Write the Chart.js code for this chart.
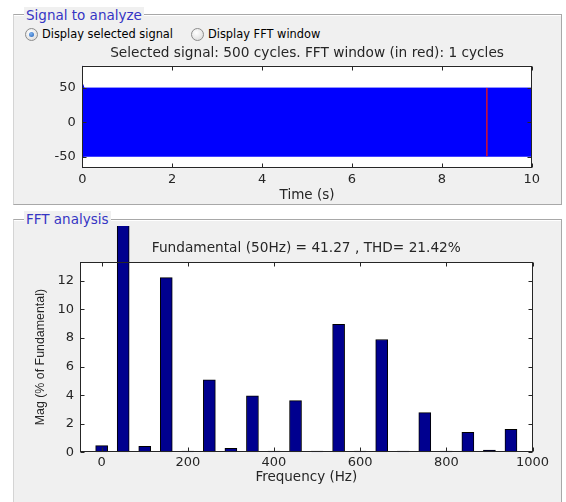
<!DOCTYPE html>
<html>
<head>
<meta charset="utf-8">
<script src="https://cdn.jsdelivr.net/npm/chart.js@4.4.0/dist/chart.umd.min.js"></script>
<style>
  body { margin: 0; width: 566px; height: 502px; position: relative; overflow: hidden; background: #fff; font-family: "DejaVu Sans", sans-serif; }
  .panel { position: absolute; left: 13px; width: 549px; background: #f0f0f0; box-sizing: border-box;
           border: 1px solid #a8a8a8; border-left-color: #d4d4d4; box-shadow: inset 0 1px #fff; }
  #panelSignal { top: 14px; height: 191px; }
  #panelFft { top: 219px; height: 300px; }
  .legend { position: absolute; left: 24px; padding: 0 2px; font-size: 13.5px; line-height: 16px; color: #3535c4; background: #f0f0f0; }
  .radio { position: absolute; top: 27.5px; width: 11px; height: 11px; border-radius: 50%; border: 1px solid #8c8c8c;
           background: radial-gradient(circle at 40% 35%, #ffffff, #d6d6d6); }
  .radio.on::after { content: ''; position: absolute; left: 3px; top: 3px; width: 5px; height: 5px; border-radius: 50%;
           background: radial-gradient(circle at 40% 35%, #7fb4f0, #1f5fb8); }
  .rlabel { position: absolute; top: 27px; font-size: 11.4px; line-height: 14px; color: #000; }
  canvas { position: absolute; left: 0; }
</style>
</head>
<body>
<div class="panel" id="panelSignal"></div>
<div class="panel" id="panelFft"></div>
<div class="legend" style="top:7px">Signal to analyze</div>
<div class="legend" style="top:211px">FFT analysis</div>
<div class="radio on" style="left:25px"></div>
<div class="rlabel" style="left:42px">Display selected signal</div>
<div class="radio" style="left:191px"></div>
<div class="rlabel" style="left:208px">Display FFT window</div>
<canvas id="signalChart" width="566" height="165" style="top:40px"></canvas>
<canvas id="fftChart" width="566" height="276" style="top:226px"></canvas>
<script>
// Signal to analyze : enveloppe du signal (s, amplitude)
const signalTime = [0, 0.004, 0.04, 10]
const signalUpper = [82, 56, 49.5, 49.5]
const signalLower = [-67, -53, -49.5, -49.5]
const fftWindowTime = [9, 9]
const fftWindowValue = [-49.5, 49.5]
const timeTicks = [0, 2, 4, 6, 8, 10]
const signalTicks = [-50, 0, 50]

// FFT analysis : harmoniques (Hz, % du fondamental)
const harmonicFreq = [0, 50, 100, 150, 200, 250, 300, 350, 400, 450, 500, 550, 600, 650, 700, 750, 800, 850, 900, 950]
const harmonicMag = [0.47, 100, 0.42, 12.23, 0.08, 5.07, 0.28, 3.95, 0.08, 3.62, 0.08, 8.96, 0.08, 7.9, 0.08, 2.78, 0.08, 1.4, 0.16, 1.61]
const freqTicks = [0, 200, 400, 600, 800, 1000]
const magTicks = [0, 2, 4, 6, 8, 10, 12]

const textColor = '#262626'
const tickFont = { family: 'DejaVu Sans', size: 13 }
const titleFont = { family: 'DejaVu Sans', size: 13.7, weight: 'normal' }
const noGrid = { display: false, drawTicks: false, offset: false }

/* Fond blanc, cadre et graduations vers l'intérieur façon MATLAB */
const matlabAxes = {
  id: 'matlabAxes',
  beforeDraw(chart) {
    const { ctx, chartArea: a } = chart
    ctx.save()
    ctx.fillStyle = '#ffffff'
    ctx.fillRect(a.left, a.top, a.width, a.height)
    ctx.restore()
  },
  afterDatasetsDraw(chart) {
    const { ctx, chartArea: a, scales: { x, y } } = chart
    const line = (x1, y1, x2, y2) => { ctx.beginPath(); ctx.moveTo(x1, y1); ctx.lineTo(x2, y2); ctx.stroke() }
    ctx.save()
    ctx.strokeStyle = textColor
    ctx.lineWidth = 1
    const l = Math.round(a.left) + 0.5, r = Math.round(a.right) - 0.5
    const t = Math.round(a.top) + 0.5, b = Math.round(a.bottom) - 0.5
    ctx.strokeRect(l, t, r - l, b - t)
    x.ticks.forEach(tk => {
      const px = Math.round(x.getPixelForValue(tk.value)) + 0.5
      line(px, b, px, b - 4)
      line(px, t, px, t + 4)
    })
    y.ticks.forEach(tk => {
      const py = Math.round(y.getPixelForValue(tk.value)) + 0.5
      line(l, py, l + 4, py)
      line(r, py, r - 4, py)
    })
    ctx.restore()
  }
}

const toPoints = (xs, ys) => xs.map((v, i) => ({ x: v, y: ys[i] }))
const plainLabel = v => String(v)

new Chart(document.querySelector('#signalChart'), {
  type: 'line',
  data: {
    datasets: [
      { data: toPoints(signalTime, signalUpper), borderColor: '#0000ff', backgroundColor: '#0000ff', borderWidth: 1, pointRadius: 0, fill: '+1', order: 2 },
      { data: toPoints(signalTime, signalLower), borderColor: '#0000ff', borderWidth: 1, pointRadius: 0, fill: false, order: 2 },
      { data: toPoints(fftWindowTime, fftWindowValue), borderColor: '#c8103a', borderWidth: 1.6, pointRadius: 0, fill: false, order: 0 }
    ]
  },
  options: {
    responsive: false,
    animation: false,
    layout: { padding: { left: 0, right: 34.2, top: 0, bottom: 0 } },
    plugins: {
      legend: { display: false },
      tooltip: { enabled: false },
      title: { display: true, fullSize: false, text: 'Selected signal: 500 cycles. FFT window (in red): 1 cycles', color: textColor, font: titleFont, padding: { top: 5, bottom: 4.3 } }
    },
    scales: {
      x: {
        type: 'linear', min: 0, max: 10,
        afterBuildTicks: s => { s.ticks = timeTicks.map(v => ({ value: v })) },
        afterFit: s => { s.height = 36.8 },
        grid: noGrid, border: { display: false },
        ticks: { color: textColor, font: tickFont, padding: 4, maxRotation: 0, autoSkip: false, callback: plainLabel },
        title: { display: true, text: 'Time (s)', color: textColor, font: { family: 'DejaVu Sans', size: 13.5 }, padding: { top: 0, bottom: 1.9 } }
      },
      y: {
        type: 'linear', min: -67, max: 82,
        afterBuildTicks: s => { s.ticks = signalTicks.map(v => ({ value: v })) },
        afterFit: s => { s.width = 82.3 },
        grid: noGrid, border: { display: false },
        ticks: { color: textColor, font: tickFont, padding: 6.5, autoSkip: false, callback: plainLabel }
      }
    }
  },
  plugins: [matlabAxes]
})

new Chart(document.querySelector('#fftChart'), {
  type: 'bar',
  data: {
    datasets: [{
      data: toPoints(harmonicFreq, harmonicMag),
      backgroundColor: '#00008f',
      borderColor: '#000000',
      borderWidth: 1,
      barThickness: 12,
      clip: { left: 0, top: 37, right: 0, bottom: 0 }
    }]
  },
  options: {
    responsive: false,
    animation: false,
    layout: { padding: { left: 0, right: 33.5, top: 0, bottom: 14 } },
    plugins: {
      legend: { display: false },
      tooltip: { enabled: false },
      title: { display: true, fullSize: false, text: 'Fundamental (50Hz) = 41.27 , THD= 21.42%', color: textColor, font: titleFont, padding: { top: 13.9, bottom: 5.6 } }
    },
    scales: {
      x: {
        type: 'linear', min: -50, max: 1000, offset: false,
        afterBuildTicks: s => { s.ticks = freqTicks.map(v => ({ value: v })) },
        afterFit: s => { s.height = 35.7 },
        grid: noGrid, border: { display: false },
        ticks: { color: textColor, font: tickFont, padding: 2.6, maxRotation: 0, autoSkip: false, callback: plainLabel },
        title: { display: true, text: 'Frequency (Hz)', color: textColor, font: { family: 'DejaVu Sans', size: 13.5 }, padding: { top: 0, bottom: 2.2 } }
      },
      y: {
        type: 'linear', min: 0, max: 13.33,
        afterBuildTicks: s => { s.ticks = magTicks.map(v => ({ value: v })) },
        afterFit: s => { s.width = 80.1 },
        grid: noGrid, border: { display: false },
        ticks: { color: textColor, font: tickFont, padding: 6, autoSkip: false, callback: plainLabel },
        title: { display: true, text: 'Mag (% of Fundamental)', color: textColor, font: { family: 'Liberation Sans', size: 12.4 }, padding: { top: 33, bottom: 0 } }
      }
    }
  },
  plugins: [matlabAxes]
})
</script>
</body>
</html>
